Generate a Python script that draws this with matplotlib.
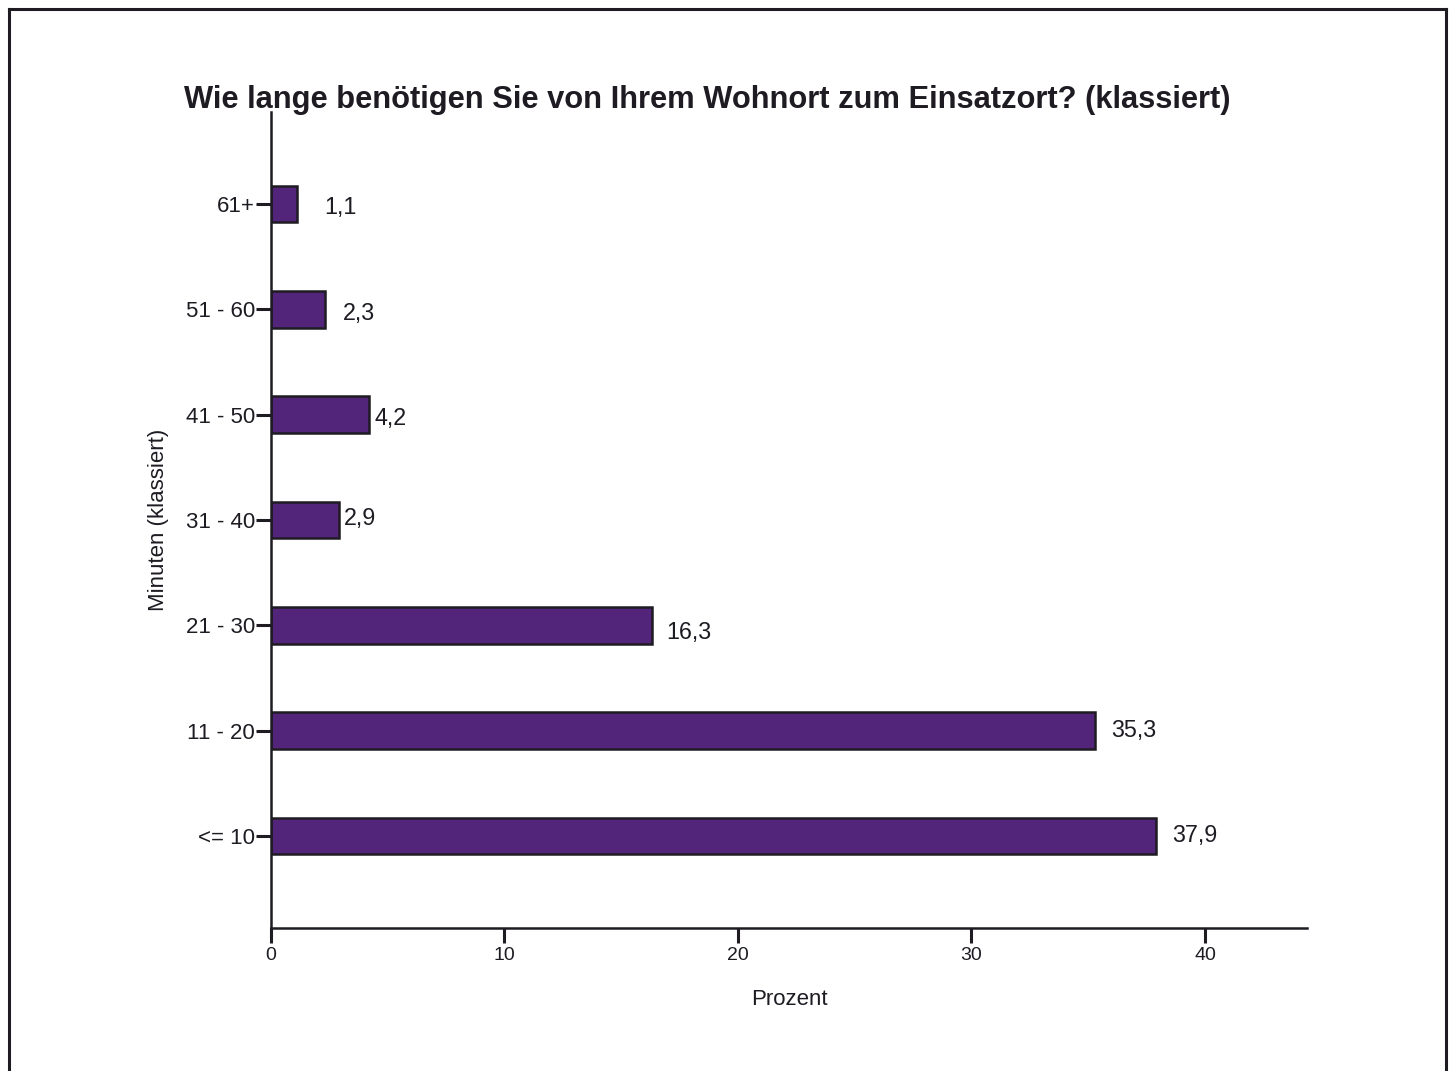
import matplotlib
matplotlib.use('Agg')
from matplotlib import pyplot as plt
from matplotlib.lines import Line2D

plt.rcParams['font.family'] = ['Liberation Sans', 'DejaVu Sans']

categories = ['<= 10', '11 - 20', '21 - 30', '31 - 40', '41 - 50', '51 - 60', '61+']
percent = [37.9, 35.3, 16.3, 2.9, 4.2, 2.3, 1.1]
value_labels = ['37,9', '35,3', '16,3', '2,9', '4,2', '2,3', '1,1']
# label offsets in pixels (dx, dy) as placed in the original
label_offsets = [(16, -1), (16, 0), (15, 7), (5, -2), (5, 4), (18, 4), (28, 4)]

bar_color = '#53257a'
ink = '#1e1b22'

fig = plt.figure(figsize=(14.53, 10.71), dpi=100)
ax = fig.add_axes([271 / 1453, 1 - 928 / 1071, (1307 - 271) / 1453, (928 - 112) / 1071])

ypos = list(range(len(categories)))
ax.barh(ypos, percent, height=0.35, color=bar_color, edgecolor=ink, linewidth=1.8)

for y, v, lab, (dx, dy) in zip(ypos, percent, value_labels, label_offsets):
    ax.annotate(lab, (v, y), xytext=(dx * 0.72, -dy * 0.72), textcoords='offset points',
                ha='left', va='center', fontsize=16.8, color=ink)

ax.set_xlim(0, 44.37)
ax.set_ylim(-0.873, 6.873)
ax.set_xticks([0, 10, 20, 30, 40])
ax.set_yticks(ypos)
ax.set_yticklabels(categories)

for side in ['top', 'right']:
    ax.spines[side].set_visible(False)
for side in ['left', 'bottom']:
    ax.spines[side].set_linewidth(1.8)
    ax.spines[side].set_color(ink)

ax.tick_params(axis='y', length=10.5, width=2.2, pad=1, labelsize=16, colors=ink)
ax.tick_params(axis='x', length=10.5, width=2.2, pad=3, labelsize=14, colors=ink)

ax.set_xlabel('Prozent', fontsize=16, color=ink, labelpad=18)
ax.set_ylabel('Minuten (klassiert)', fontsize=16, color=ink, labelpad=12)

fig.text(707.5 / 1453, 1 - 100 / 1071, 'Wie lange benötigen Sie von Ihrem Wohnort zum Einsatzort? (klassiert)',
         ha='center', va='center', fontsize=22.2, fontweight='bold', color=ink)

# outer frame (top, left, right)
x0, x1 = 8.5 / 1453, 1446 / 1453
yt = 1 - 8.5 / 1071
for xs, ys in [([x0, x1], [yt, yt]), ([x0, x0], [0, yt]), ([x1, x1], [0, yt])]:
    fig.add_artist(Line2D(xs, ys, transform=fig.transFigure, color=ink, linewidth=2.2))

fig.savefig('out.png', dpi=100)
